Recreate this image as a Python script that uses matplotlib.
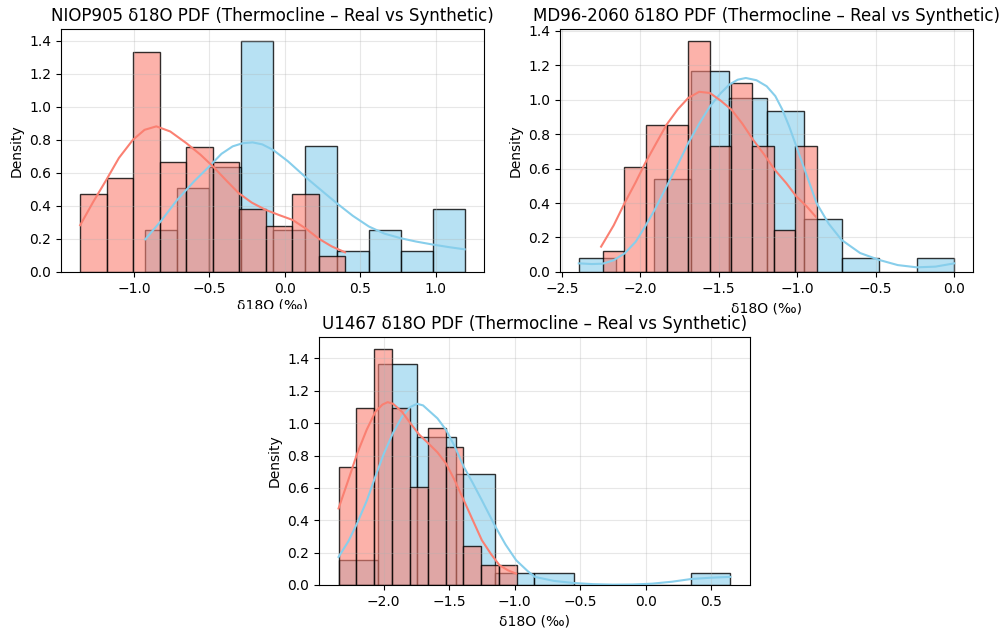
import numpy as np
import matplotlib
matplotlib.use("Agg")
import matplotlib.pyplot as plt
from matplotlib.colors import to_rgba
from matplotlib.transforms import Bbox

REAL_COLOR = "skyblue"
SYN_COLOR = "salmon"

# ── NIOP905 ──────────────────────────────────────────
niop_real_range = (-0.925, 1.192)
niop_real_dens = [0.255, 0.507, 0.638, 1.400, 0.255, 0.764, 0.127, 0.255, 0.127, 0.380]
niop_syn_range = (-1.357, 0.399)
niop_syn_dens = [0.473, 0.566, 1.329, 0.665, 0.758, 0.665, 0.380, 0.281, 0.473, 0.099]

niop_real_kde_x = [-0.925, -0.82, -0.714, -0.60, -0.502, -0.42, -0.346, -0.28, -0.214,
                   -0.15, -0.079, 0.02, 0.132, 0.24, 0.344, 0.45, 0.557, 0.66, 0.769,
                   0.87, 0.98, 1.09, 1.192]
niop_real_kde_y = [0.198, 0.31, 0.436, 0.55, 0.638, 0.715, 0.760, 0.779, 0.784,
                   0.772, 0.739, 0.670, 0.578, 0.495, 0.416, 0.340, 0.275, 0.232, 0.204,
                   0.184, 0.166, 0.150, 0.137]
niop_syn_kde_x = [-1.357, -1.27, -1.183, -1.10, -1.007, -0.93, -0.852, -0.76, -0.654,
                  -0.56, -0.476, -0.39, -0.306, -0.22, -0.128, -0.04, 0.051, 0.14,
                  0.227, 0.31, 0.399]
niop_syn_kde_y = [0.283, 0.425, 0.558, 0.690, 0.800, 0.860, 0.881, 0.850, 0.780,
                  0.710, 0.638, 0.555, 0.477, 0.420, 0.376, 0.345, 0.315, 0.262,
                  0.200, 0.155, 0.119]

# ── MD96-2060 ────────────────────────────────────────
md_real_range = (-2.392, 0.0)
md_real_dens = [0.081, 0.0, 0.540, 1.166, 1.007, 0.935, 0.310, 0.081, 0.0, 0.081]
md_syn_range = (-2.239, -0.877)
md_syn_dens = [0.122, 0.610, 0.854, 0.854, 1.342, 0.732, 1.098, 0.732, 0.244, 0.732]

md_real_kde_x = [-2.392, -2.31, -2.24, -2.17, -2.10, -2.03, -1.97, -1.90, -1.833,
                 -1.76, -1.695, -1.625, -1.557, -1.49, -1.434, -1.38, -1.328, -1.26,
                 -1.195, -1.14, -1.095, -1.05, -1.006, -0.94, -0.877, -0.80, -0.718,
                 -0.60, -0.479, -0.36, -0.239, -0.12, 0.0]
md_real_kde_y = [0.050, 0.046, 0.048, 0.068, 0.108, 0.175, 0.263, 0.375, 0.496,
                 0.625, 0.747, 0.860, 0.960, 1.035, 1.086, 1.115, 1.125, 1.112,
                 1.077, 1.020, 0.941, 0.840, 0.728, 0.560, 0.399, 0.280, 0.186,
                 0.110, 0.070, 0.040, 0.027, 0.031, 0.050]
md_syn_kde_x = [-2.25, -2.17, -2.10, -2.03, -1.97, -1.90, -1.833, -1.76, -1.695,
                -1.625, -1.557, -1.49, -1.419, -1.35, -1.282, -1.21, -1.144, -1.07,
                -1.006, -0.94, -0.883]
md_syn_kde_y = [0.147, 0.270, 0.400, 0.520, 0.630, 0.745, 0.854, 0.945, 1.009,
                1.045, 1.038, 0.995, 0.941, 0.860, 0.767, 0.680, 0.593, 0.515,
                0.438, 0.380, 0.321]

# ── U1467 ────────────────────────────────────────────
u_real_range = (-2.345, 0.647)
u_real_dens = [0.157, 1.365, 0.913, 0.683, 0.076, 0.076, 0.0, 0.0, 0.0, 0.076]
u_syn_range = (-2.345, -0.984)
u_syn_dens = [0.731, 1.096, 1.460, 1.096, 0.607, 0.973, 0.855, 0.242, 0.122, 0.122]

u_real_kde_x = [-2.345, -2.27, -2.204, -2.13, -2.064, -2.00, -1.929, -1.86, -1.797,
                -1.746, -1.70, -1.659, -1.59, -1.524, -1.46, -1.389, -1.32, -1.251,
                -1.147, -1.07, -0.989, -0.90, -0.846, -0.70, -0.548, -0.40, -0.25,
                -0.10, 0.048, 0.20, 0.349, 0.50, 0.647]
u_real_kde_y = [0.173, 0.270, 0.380, 0.520, 0.670, 0.810, 0.940, 1.040, 1.100,
                1.120, 1.110, 1.080, 1.030, 0.958, 0.860, 0.731, 0.630, 0.524,
                0.360, 0.250, 0.153, 0.085, 0.050, 0.025, 0.012, 0.005, 0.002,
                0.003, 0.008, 0.020, 0.037, 0.045, 0.050]
u_syn_kde_x = [-2.345, -2.27, -2.204, -2.13, -2.064, -2.01, -1.97, -1.929, -1.86,
               -1.797, -1.73, -1.659, -1.59, -1.524, -1.46, -1.389, -1.32, -1.251,
               -1.18, -1.116, -1.05, -0.989]
u_syn_kde_y = [0.473, 0.650, 0.810, 0.960, 1.070, 1.115, 1.130, 1.120, 1.070,
               1.000, 0.930, 0.875, 0.820, 0.750, 0.650, 0.524, 0.400, 0.277,
               0.190, 0.122, 0.090, 0.070]

panels = [
    ("NIOP905", niop_real_range, niop_real_dens, niop_syn_range, niop_syn_dens,
     niop_real_kde_x, niop_real_kde_y, niop_syn_kde_x, niop_syn_kde_y),
    ("MD96-2060", md_real_range, md_real_dens, md_syn_range, md_syn_dens,
     md_real_kde_x, md_real_kde_y, md_syn_kde_x, md_syn_kde_y),
    ("U1467", u_real_range, u_real_dens, u_syn_range, u_syn_dens,
     u_real_kde_x, u_real_kde_y, u_syn_kde_x, u_syn_kde_y),
]

# axes rectangles in figure fractions
positions = [
    [0.061, 0.5676, 0.4234, 0.3863],
    [0.5606, 0.5676, 0.4134, 0.3863],
    [0.3193, 0.0700, 0.4314, 0.3943],
]
label_pads = [2.0, 4.0, 4.0]
# x-label clipping seen in the source image (display pixels, origin bottom-left)
label_clips = [
    Bbox([[0, 320], [999, 629]]),
    Bbox([[0, 0], [999, 326]]),
    None,
]


def draw_hist(ax, rng, dens, color):
    edges = np.linspace(rng[0], rng[1], len(dens) + 1)
    ax.bar(edges[:-1], dens, width=np.diff(edges), align="edge",
           facecolor=to_rgba(color, 0.6), edgecolor=(0, 0, 0, 0.8), linewidth=1)


fig = plt.figure(figsize=(9.99, 6.29), dpi=100)

for (name, r_rng, r_d, s_rng, s_d, rkx, rky, skx, sky), pos, pad, clip in zip(
        panels, positions, label_pads, label_clips):
    ax = fig.add_axes(pos)
    draw_hist(ax, r_rng, r_d, REAL_COLOR)
    ax.plot(rkx, rky, color=REAL_COLOR, linewidth=1.5)
    draw_hist(ax, s_rng, s_d, SYN_COLOR)
    ax.plot(skx, sky, color=SYN_COLOR, linewidth=1.5)

    ax.set_title(f"{name} δ18O PDF (Thermocline – Real vs Synthetic)", fontsize=12)
    ax.set_xlabel("δ18O (‰)", labelpad=pad)
    ax.set_ylabel("Density")
    ax.grid(True, alpha=0.3)
    if clip is not None:
        ax.xaxis.label.set_clip_box(clip)
        ax.xaxis.label.set_clip_on(True)

fig.savefig("out.png", dpi=100)
